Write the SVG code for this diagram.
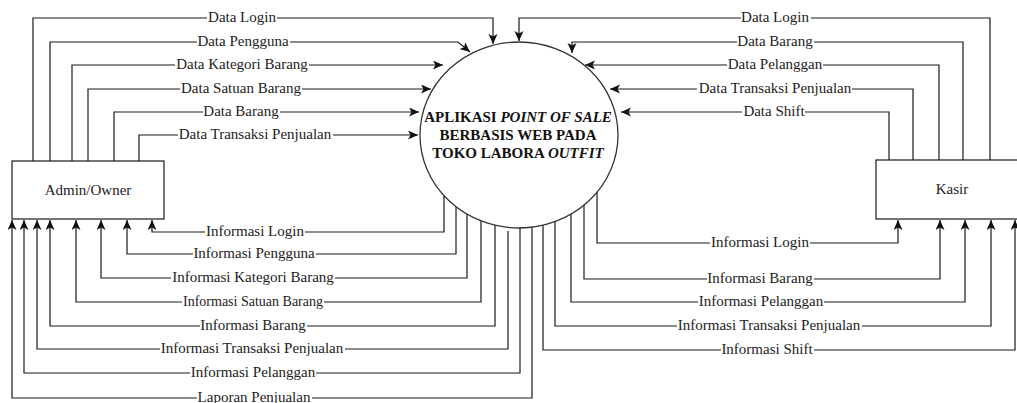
<svg xmlns="http://www.w3.org/2000/svg" width="1017" height="403" viewBox="0 0 1017 403">
  <defs>
    <style>
      .box { fill: #ffffff; stroke: #1a1a1a; stroke-width: 1.2; }
      .proc { fill: #ffffff; stroke: #333333; stroke-width: 1.3; }
      .name { font-family: "Liberation Serif", "Times New Roman", serif; font-size: 15px; fill: #222222; text-anchor: middle; }
      .title { font-family: "Liberation Serif", "Times New Roman", serif; font-size: 15px; font-weight: bold; fill: #111111; text-anchor: middle; }
      .flow { fill: none; stroke: #1a1a1a; stroke-width: 1.2; marker-end: url(#arrow); }
      .lbl { font-family: "Liberation Serif", "Times New Roman", serif; font-size: 15px; fill: #222222; text-anchor: middle; }
      .lbl.sm { font-size: 14px; }
      .bg { fill: #ffffff; }
    </style>
    <marker id="arrow" markerUnits="userSpaceOnUse" markerWidth="11" markerHeight="10" refX="10" refY="4.5" orient="auto">
      <path d="M0,0 L10,4.5 L0,9 L2.5,4.5 Z" fill="#111111"/>
    </marker>
  </defs>

  <rect width="1017" height="403" fill="#ffffff"/>

  <!-- data flows -->
  <g id="connectors">
    <!-- Admin/Owner to system -->
    <path class="flow" d="M33,161 V18 H493 V44"/>
    <path class="flow" d="M50,161 V42 H458 L470,52"/>
    <path class="flow" d="M72,161 V65 H443"/>
    <path class="flow" d="M88,161 V89 H431"/>
    <path class="flow" d="M114,161 V112 H419"/>
    <path class="flow" d="M139,161 V135 H418"/>
    <!-- system to Admin/Owner -->
    <path class="flow" d="M444,196 V232 H152 V220"/>
    <path class="flow" d="M456,207 V254 H127 V220"/>
    <path class="flow" d="M467,214 V278 H101 V220"/>
    <path class="flow" d="M481,221 V302 H76 V220"/>
    <path class="flow" d="M495,225 V326 H50 V220"/>
    <path class="flow" d="M508,231 V349 H37 V220"/>
    <path class="flow" d="M520,228 V373 H24 V220"/>
    <path class="flow" d="M532,227 V398 H12 V220"/>
    <!-- Kasir to system -->
    <path class="flow" d="M990,160 V18 H519 V41"/>
    <path class="flow" d="M963,160 V42 H572 V53"/>
    <path class="flow" d="M939,160 V65 H585"/>
    <path class="flow" d="M913,160 V89 H610"/>
    <path class="flow" d="M889,160 V112 H621"/>
    <!-- system to Kasir -->
    <path class="flow" d="M597,192 V243 H898 V220"/>
    <path class="flow" d="M584,205 V279 H940 V220"/>
    <path class="flow" d="M571,214 V302 H965 V220"/>
    <path class="flow" d="M555,222 V326 H991 V220"/>
    <path class="flow" d="M543,225 V350 H1015 V220"/>

    <!-- flow labels -->
    <g id="labels">
      <rect class="bg" x="207" y="10" width="70" height="16"/><text class="lbl" x="242" y="22">Data Login</text>
      <rect class="bg" x="197" y="34" width="93" height="16"/><text class="lbl" x="243" y="46">Data Pengguna</text>
      <rect class="bg" x="175" y="57" width="134" height="16"/><text class="lbl" x="242" y="69">Data Kategori Barang</text>
      <rect class="bg" x="180" y="81" width="122" height="16"/><text class="lbl" x="241" y="93">Data Satuan Barang</text>
      <rect class="bg" x="203" y="104" width="77" height="16"/><text class="lbl" x="241" y="116">Data Barang</text>
      <rect class="bg" x="178" y="127" width="155" height="16"/><text class="lbl" x="255" y="139">Data Transaksi Penjualan</text>

      <rect class="bg" x="205" y="224" width="100" height="16"/><text class="lbl" x="255" y="236">Informasi Login</text>
      <rect class="bg" x="193" y="246" width="123" height="16"/><text class="lbl" x="254" y="258">Informasi Pengguna</text>
      <rect class="bg" x="171" y="270" width="164" height="16"/><text class="lbl" x="253" y="282">Informasi Kategori Barang</text>
      <rect class="bg" x="182" y="294" width="142" height="16"/><text class="lbl sm" x="253" y="306">Informasi Satuan Barang</text>
      <rect class="bg" x="200" y="318" width="107" height="16"/><text class="lbl" x="253" y="330">Informasi Barang</text>
      <rect class="bg" x="160" y="341" width="185" height="16"/><text class="lbl" x="252" y="353">Informasi Transaksi Penjualan</text>
      <rect class="bg" x="190" y="365" width="126" height="16"/><text class="lbl" x="253" y="377">Informasi Pelanggan</text>
      <rect class="bg" x="197" y="390" width="115" height="13"/><text class="lbl" x="254" y="402">Laporan Penjualan</text>

      <rect class="bg" x="741" y="10" width="70" height="16"/><text class="lbl" x="775" y="22">Data Login</text>
      <rect class="bg" x="737" y="34" width="77" height="16"/><text class="lbl" x="775" y="46">Data Barang</text>
      <rect class="bg" x="727" y="57" width="96" height="16"/><text class="lbl" x="775" y="69">Data Pelanggan</text>
      <rect class="bg" x="697" y="81" width="155" height="16"/><text class="lbl" x="775" y="93">Data Transaksi Penjualan</text>
      <rect class="bg" x="742" y="104" width="63" height="16"/><text class="lbl" x="774" y="116">Data Shift</text>

      <rect class="bg" x="710" y="235" width="100" height="16"/><text class="lbl" x="760" y="247">Informasi Login</text>
      <rect class="bg" x="707" y="271" width="107" height="16"/><text class="lbl" x="760" y="283">Informasi Barang</text>
      <rect class="bg" x="698" y="294" width="126" height="16"/><text class="lbl" x="761" y="306">Informasi Pelanggan</text>
      <rect class="bg" x="677" y="318" width="185" height="16"/><text class="lbl" x="769" y="330">Informasi Transaksi Penjualan</text>
      <rect class="bg" x="721" y="342" width="93" height="16"/><text class="lbl" x="767" y="354">Informasi Shift</text>
    </g>
  </g>

  <!-- external entity: Admin/Owner -->
  <g id="admin">
    <rect class="box" x="12" y="161" width="152" height="58"/>
    <text class="name" x="88" y="195">Admin/Owner</text>
  </g>

  <!-- external entity: Kasir -->
  <g id="kasir">
    <rect class="box" x="876" y="160" width="152" height="59"/>
    <text class="name" x="952" y="194">Kasir</text>
  </g>

  <!-- process -->
  <g id="process">
    <ellipse class="proc" cx="519" cy="135" rx="99" ry="93"/>
    <text class="title" x="518" y="122">APLIKASI <tspan font-style="italic">POINT OF SALE</tspan></text>
    <text class="title" x="518" y="140">BERBASIS WEB PADA</text>
    <text class="title" x="518" y="158">TOKO LABORA <tspan font-style="italic">OUTFIT</tspan></text>
  </g>
</svg>
